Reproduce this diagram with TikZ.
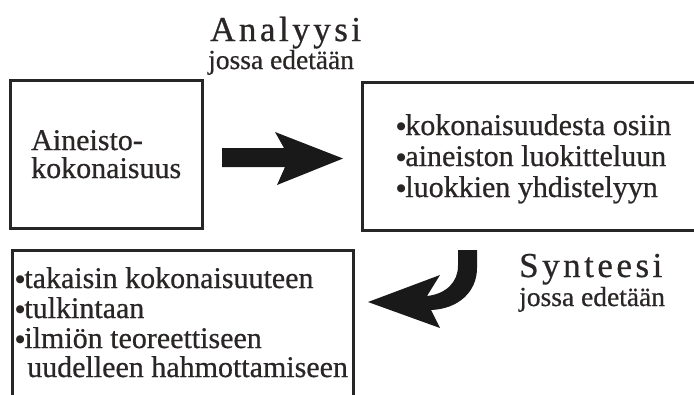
\documentclass[tikz,border=0pt]{standalone}
\usepackage{fontspec}
\setmainfont[FakeBold=0.6]{Liberation Serif}
\newfontfamily\spacedfont[LetterSpace=10,FakeBold=0.6]{Liberation Serif}
\newfontfamily\bulfont{DejaVu Sans}
\definecolor{txt}{HTML}{2A2626}
\newcommand{\bul}{\kern-0.5pt\raisebox{6pt}{\bulfont\fontsize{10.5}{10.5}\selectfont ●}\kern-0.5pt}
\begin{document}
\begin{tikzpicture}[x=1pt,y=-1pt,
  frame/.style={draw=black!85,line width=3pt},
  body/.style={inner sep=0pt,anchor=base west,text=txt,font=\fontsize{30}{30}\selectfont},
  sub/.style={inner sep=0pt,anchor=base west,text=txt,font=\fontsize{27.5}{27.5}\selectfont},
  title/.style={inner sep=0pt,anchor=base west,text=txt,font=\spacedfont\fontsize{35}{35}\selectfont},
  blockarrow/.style={fill=black!90,draw=none}]
\useasboundingbox (0,0) rectangle (694,394);
\fill[white] (0,0) rectangle (694,394);
% boxes
\draw[frame] (10,80) rectangle (202,228) coordinate (b1);
\draw[frame] (362,82) rectangle (710,230) coordinate (b2);
\draw[frame] (12,250) rectangle (353,410) coordinate (b3);
% titles
\node[title] (an) at (210,41) {Analyysi};
\node[sub] (an2) at (208,69) {jossa edetään};
\node[title] (sy) at (519,277) {Synteesi};
\node[sub] (sy2) at (519,306) {jossa edetään};
% box 1 text
\node[body] (t11) at (31,150) {Aineisto-};
\node[body] (t12) at (31,178) {kokonaisuus};
% box 2 text
\node[body] (t21) at (397,135) {\bul kokonaisuudesta osiin};
\node[body] (t22) at (397,166) {\bul aineiston luokitteluun};
\node[body] (t23) at (397,197) {\bul luokkien yhdistelyyn};
% box 3 text
\node[body] (t31) at (16,288) {\bul takaisin kokonaisuuteen};
\node[body] (t32) at (16,318) {\bul tulkintaan};
\node[body] (t33) at (16,348) {\bul ilmiön teoreettiseen};
\node[body] (t34) at (27,377) {uudelleen hahmottamiseen};
% straight arrow
\fill[blockarrow] (222,148) -- (284,148) -- (275,132) -- (343,158.5) -- (277,185) -- (285,167) -- (222,167) -- cycle;
% curved arrow
\fill[blockarrow] (458,250) -- (477,250) -- (477,268)
  .. controls (477,292) and (458,309) .. (431,310)
  -- (440,328) -- (368,302) -- (440,275) -- (427,296)
  .. controls (446,294) and (458,282) .. (458,266) -- cycle;
\end{tikzpicture}
\end{document}
